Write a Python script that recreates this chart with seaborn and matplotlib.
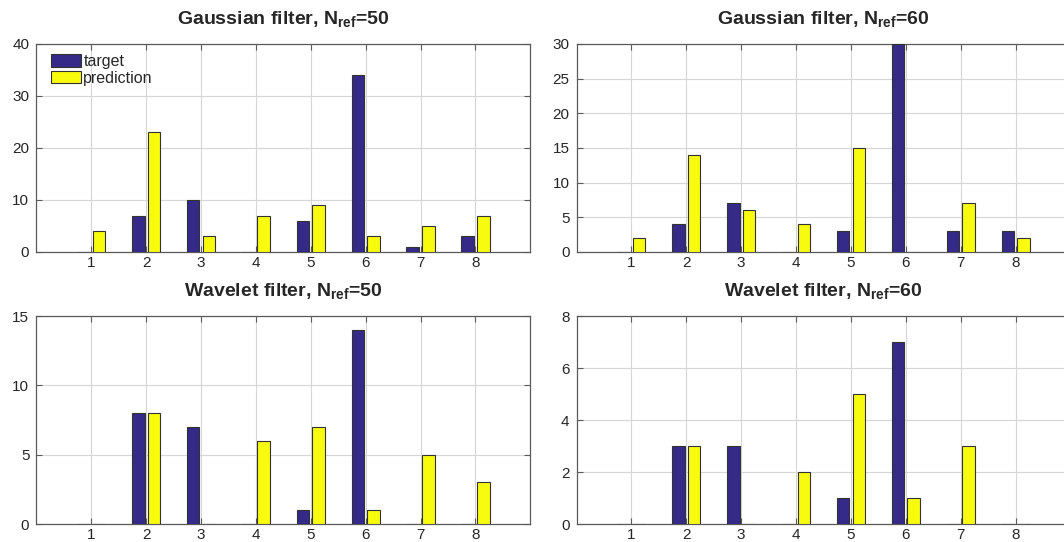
import matplotlib
matplotlib.use("Agg")
import matplotlib.pyplot as plt
import seaborn as sns
import pandas as pd

# Class labels on the x axis
classes = [1, 2, 3, 4, 5, 6, 7, 8]

# Counts per class for each panel
gauss50_target = [0, 7, 10, 0, 6, 34, 1, 3]
gauss50_pred = [4, 23, 3, 7, 9, 3, 5, 7]
gauss60_target = [0, 4, 7, 0, 3, 30, 3, 3]
gauss60_pred = [2, 14, 6, 4, 15, 0, 7, 2]
wave50_target = [0, 8, 7, 0, 1, 14, 0, 0]
wave50_pred = [0, 8, 0, 6, 7, 1, 5, 3]
wave60_target = [0, 3, 3, 0, 1, 7, 0, 0]
wave60_pred = [0, 3, 0, 2, 5, 1, 3, 0]

titles = [
    r"Gaussian filter, N$_{\mathbf{ref}}$=50",
    r"Gaussian filter, N$_{\mathbf{ref}}$=60",
    r"Wavelet filter, N$_{\mathbf{ref}}$=50",
    r"Wavelet filter, N$_{\mathbf{ref}}$=60",
]
y_limits = [(0, 40), (0, 30), (0, 15), (0, 8)]
y_steps = [10, 5, 5, 2]
series_names = ["target", "prediction"]

sns.set_theme(style="white")
plt.rcParams["font.family"] = ["Liberation Sans", "DejaVu Sans"]
plt.rcParams["mathtext.fontset"] = "custom"
plt.rcParams["mathtext.rm"] = "Liberation Sans"
plt.rcParams["mathtext.bf"] = "Liberation Sans:bold"

palette = {"target": "#352A87", "prediction": "#F9FB0E"}

fig = plt.figure(figsize=(10.64, 5.42), dpi=100)

W, H = 1064, 542
ax_w, ax_h = 494, 208
positions = [(36.3, 44), (576.5, 44), (36.3, 316), (576.5, 316)]

panels = [
    (gauss50_target, gauss50_pred),
    (gauss60_target, gauss60_pred),
    (wave50_target, wave50_pred),
    (wave60_target, wave60_pred),
]

for i, ((tgt, prd), (px, py)) in enumerate(zip(panels, positions)):
    ax = fig.add_axes([px / W, 1 - (py + ax_h) / H, ax_w / W, ax_h / H])
    df = pd.DataFrame({
        "cls": classes * 2,
        "count": list(tgt) + list(prd),
        "series": [series_names[0]] * len(classes) + [series_names[1]] * len(classes),
    })
    sns.barplot(
        data=df, x="cls", y="count", hue="series", hue_order=series_names,
        palette=palette, native_scale=True, width=0.571, gap=0.2,
        edgecolor="#333333", linewidth=0.8, saturation=1, ax=ax,
        legend=(i == 0), errorbar=None, zorder=3,
    )
    ax.set_xlim(0, 9)
    ax.set_ylim(*y_limits[i])
    ax.set_xticks(classes)
    ax.set_xticklabels([str(c) for c in classes])
    lo, hi = y_limits[i]
    ax.set_yticks(list(range(lo, hi + 1, y_steps[i])))
    ax.set_xlabel("")
    ax.set_ylabel("")
    ax.set_axisbelow(True)
    ax.grid(True, color="#d6d6d6", linewidth=0.8, zorder=0)
    for sp in ax.spines.values():
        sp.set_visible(True)
        sp.set_color("#5a5a5a")
        sp.set_linewidth(0.9)
    ax.tick_params(direction="in", length=4, width=0.8, color="#5a5a5a",
                   labelsize=11, labelcolor="#262626", top=True, right=True,
                   left=True, bottom=True)
    ax.tick_params(axis="x", pad=3)
    ax.tick_params(axis="y", pad=5)
    ax.set_title(titles[i], fontsize=14, fontweight="bold", pad=14)

    if i == 0:
        handles, labels = ax.get_legend_handles_labels()
        ax.legend(
            handles, labels, loc="upper left",
            bbox_to_anchor=(0.029, 1 - 10 / ax_h), borderaxespad=0, borderpad=0,
            frameon=False, fontsize=11.5, handlelength=1.9, handleheight=0.8,
            handletextpad=0.15, labelspacing=0.12,
        )

fig.savefig("out.png", dpi=100)
